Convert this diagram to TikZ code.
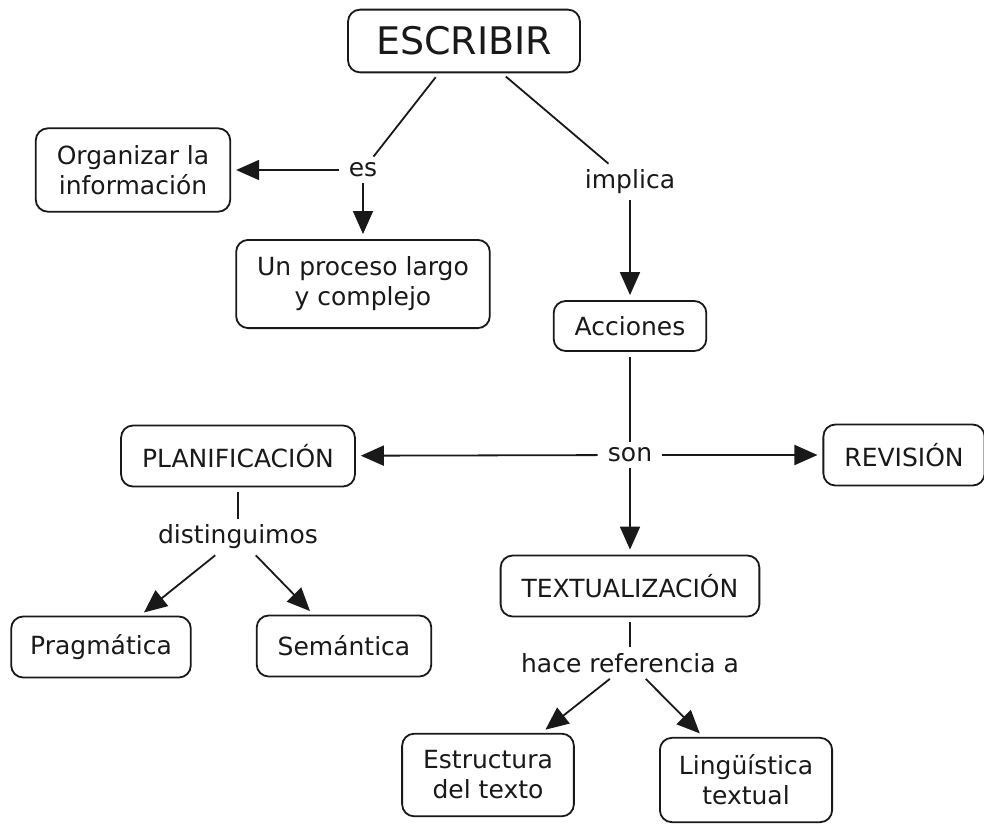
\documentclass[tikz,border=0pt]{standalone}
\usepackage{fontspec}
\setmainfont{DejaVu Sans}
\usepackage{tikz}
\usetikzlibrary{arrows.meta, backgrounds}

\begin{document}
\begin{tikzpicture}[x=1pt, y=-1pt,
  background rectangle/.style={fill=white}, show background rectangle,
  concept/.style={draw=black!90, line width=1.8pt, rounded corners=12pt, align=center,
    text=black!90, font=\fontsize{25}{30}\selectfont, inner xsep=21pt, inner ysep=17pt,
    minimum height=61pt},
  linking/.style={text=black!90, font=\fontsize{25}{30}\selectfont, inner xsep=10pt, inner ysep=6pt},
  conn/.style={draw=black!90, line width=1.8pt},
  arrow/.style={conn, -{Triangle[length=23pt, width=20pt]}, shorten >=5pt}]
\useasboundingbox (0,0) rectangle (984,823);

\node [concept, font=\fontsize{38}{40}\selectfont, inner xsep=28pt] (Escribir) at (464,41) {ESCRIBIR};
\node [concept] (Organizar) at (133,170) {Organizar la\\información};
\node [concept] (Proceso) at (363,284) {Un proceso largo\\y complejo};
\node [concept, minimum height=50pt, inner ysep=12pt] (Acciones) at (630,326) {Acciones};
\node [concept] (Planif) at (238,456) {PLANIFICACIÓN};
\node [concept] (Revision) at (904,455) {REVISIÓN};
\node [concept] (Textual) at (630,586) {TEXTUALIZACIÓN};
\node [concept, inner xsep=19pt] (Pragma) at (101,647) {Pragmática};
\node [concept] (Seman) at (344,646) {Semántica};
\node [concept] (Estruct) at (488,775) {Estructura\\del texto};
\node [concept, inner xsep=19pt] (Lingu) at (746,780) {Lingüística\\textual};

\node [linking] (Les) at (363,170) {es};
\node [linking] (Limplica) at (630,182) {implica};
\node [linking] (Lson) at (630,455) {son};
\node [linking] (Ldist) at (238,537) {distinguimos};
\node [linking] (Lhace) at (630,663) {hace referencia a};

\draw [conn, shorten <=5pt] (Escribir) -- (Les);
\draw [conn, shorten <=5pt] (Escribir) -- (Limplica);
\draw [arrow] (Les) -- (Organizar);
\draw [arrow] (Les) -- (Proceso);
\draw [arrow] (Limplica) -- (Acciones);

\draw [conn, shorten <=5pt] (Acciones) -- (Lson);
\draw [arrow] (Lson) -- (Planif);
\draw [arrow] (Lson) -- (Revision);
\draw [arrow] (Lson) -- (Textual);

\draw [conn, shorten <=5pt] (Planif) -- (Ldist);
\draw [arrow] (Ldist) -- (Pragma);
\draw [arrow] (Ldist) -- (Seman);

\draw [conn, shorten <=5pt] (Textual) -- (Lhace);
\draw [arrow] (Lhace) -- (Estruct);
\draw [arrow] (Lhace) -- (Lingu);
\end{tikzpicture}
\end{document}
